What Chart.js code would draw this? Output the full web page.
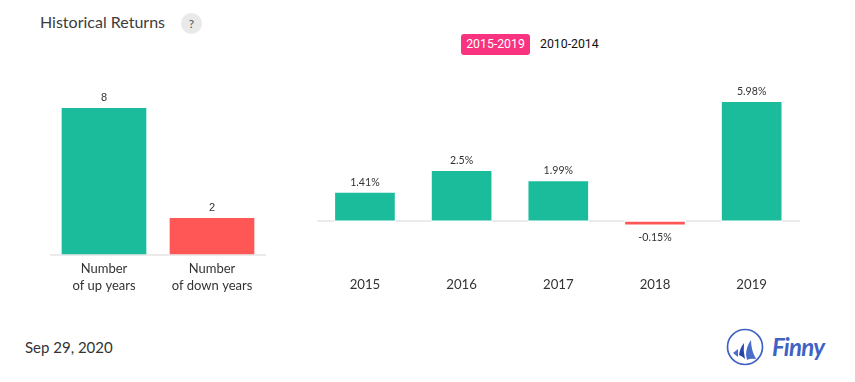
<!DOCTYPE html>
<html><head><meta charset="utf-8">
<script src="https://cdn.jsdelivr.net/npm/chart.js@4"></script>
<style>
html,body{margin:0;padding:0;background:#fff;width:855px;height:382px;overflow:hidden}
body{position:relative;font-family:Lato,sans-serif}
.a{position:absolute;white-space:nowrap}
</style></head><body>
<div class="a" style="left:40px;top:12px;font-size:16px;line-height:20px;color:#3c3c3c">Historical Returns</div>
<div class="a" style="left:181px;top:13px;width:21px;height:21px;border-radius:50%;background:#e9e9e9;color:#555;font-size:12px;line-height:21px;text-align:center">?</div>
<div class="a" style="left:461px;top:34px;width:69px;height:21px;border-radius:3px;background:#f9337f;color:#fff;font:12.3px/21px Roboto,sans-serif;text-align:center">2015-2019</div>
<div class="a" style="left:540px;top:34px;color:#111;font:12.3px/21px Roboto,sans-serif">2010-2014</div>
<div class="a" style="left:25px;top:337px;font-size:15px;line-height:20px;color:#333">Sep 29, 2020</div>
<div style="position:absolute;left:50px;top:71px;width:216px;height:229px"><canvas id="cl"></canvas></div>
<div style="position:absolute;left:316px;top:82px;width:484px;height:218px"><canvas id="cr"></canvas></div>
<svg class="a" style="left:725px;top:326px" width="110" height="40" viewBox="0 0 110 40">
<circle cx="20" cy="21" r="17.5" fill="none" stroke="#3f62c4" stroke-width="1.7"/>
<path d="M8 27 L13 23 L13 31 Z" fill="#4a6ccb"/>
<path d="M14 29 Q15 22 19 17 Q18 25 20 33 Q17 30 14 29 Z" fill="#2747a8"/>
<path d="M21 29 Q21 21 26 14 Q26 24 31 33 Q25 32 22 34 Z" fill="#4a6ccb"/>
<text x="47" y="30" font-family="Lato" font-style="italic" font-weight="700" font-size="24" fill="#3f62c4" textLength="53">Finny</text>
</svg>
<script>
const upDownLabels = [["Number","of up years"],["Number","of down years"]];
const upDownValues = [8,2];
const upDownText = ["8","2"];
const years = ["2015","2016","2017","2018","2019"];
const returns = [1.41,2.5,1.99,-0.15,5.98];
const returnText = ["1.41%","2.5%","1.99%","-0.15%","5.98%"];
const GREEN="#1abc9c", RED="#ff5656", AXIS="#ebebeb";
function labelPlugin(texts,font,up){return {id:"vals",afterDatasetsDraw(c){
  const x=c.ctx,m=c.getDatasetMeta(0);x.save();x.font=font;x.fillStyle="#333";x.textAlign="center";x.textBaseline="middle";
  m.data.forEach((b,i)=>{const neg=c.data.datasets[0].data[i]<0;x.fillText(texts[i],b.x,neg?b.y+13:b.y-up);});x.restore();}};}
const gapPlugin={id:"gap",beforeDatasetsDraw(c){
  const x=c.ctx,z=c.scales.y.getPixelForValue(0);x.save();x.fillStyle="#fff";
  c.getDatasetMeta(0).data.forEach(b=>x.fillRect(b.x-b.width/2-1,z-1.5,b.width+2,3));x.restore();}};
function make(id,labels,values,texts,min,max,thick,padding,xh,font,size,extra,pad,up){
  return new Chart(document.getElementById(id),{type:"bar",
   data:{labels,datasets:[{data:values,barThickness:thick,borderWidth:0,
     backgroundColor:values.map((v,i)=>(id==="cl"?(i===1?RED:GREEN):(v<0?RED:GREEN)))}]},
   options:{responsive:true,maintainAspectRatio:false,animation:false,
    layout:{padding:pad},
    plugins:{legend:{display:false},tooltip:{enabled:false}},
    scales:{
     x:{afterFit(s){s.height=xh;},grid:{display:false},border:{display:false},
        ticks:{padding,color:"#333",maxRotation:0,autoSkip:false,font:{family:"Lato",size,lineHeight:1.3}}},
     y:{min,max,ticks:{display:false,stepSize:1},border:{display:false},
        grid:{drawTicks:false,lineWidth:2,color:c=>c.tick.value===0?AXIS:"rgba(0,0,0,0)"}}
    }},plugins:[labelPlugin(texts,font,up)].concat(extra)});
}
Chart.defaults.font.family="Lato";
make("cl",upDownLabels,upDownValues,upDownText,0,10,84,-3,45,"11px 'Liberation Sans'",13,[],{top:0.6},10);
make("cr",years,returns,returnText,-1,7,59,27,59,"10.6px Lato",13.2,[gapPlugin],{left:0.6},10.5);
</script>
</body></html>
